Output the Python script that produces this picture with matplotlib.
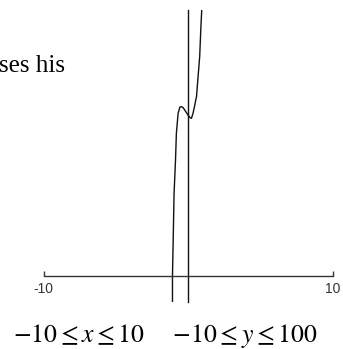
import matplotlib
matplotlib.use("Agg")
import matplotlib.pyplot as plt

# curve points (x, y)
curve_x = [-1.09, -1.09, -1.04, -0.98, -0.88, -0.82, -0.70, -0.58, -0.47, -0.35, -0.24,
           0.0, 0.12, 0.22, 0.33, 0.43, 0.52, 0.57, 0.66, 0.79, 0.88, 0.93]
curve_y = [-10.0, 0.0, 13.5, 31.0, 43.5, 53.6, 61.1, 63.4, 63.6, 63.2, 62.3,
           60.3, 59.5, 59.2, 61.1, 63.6, 66.1, 67.3, 73.6, 82.4, 94.3, 99.7]
x_range = [-10, 10]
y_range = [-10, 100]
x_ticks = [-10, 10]
x_tick_labels = ["-10", "10"]

plt.rcParams['mathtext.fontset'] = 'stix'

fig = plt.figure(figsize=(3.43, 3.49), dpi=100)
ax = fig.add_axes([43.5 / 343, (349 - 302.4) / 349, (333 - 43.5) / 343, (302.4 - 9.8) / 349])
ax.set_xlim(*x_range)
ax.set_ylim(*y_range)

ax.plot(curve_x, curve_y, color="#111111", lw=1.0, solid_joinstyle="round")

for s in ("top", "right"):
    ax.spines[s].set_visible(False)
ax.spines["left"].set_position(("data", 0))
ax.spines["bottom"].set_position(("data", 0))
ax.spines["left"].set_color("#111111")
ax.spines["bottom"].set_color("#333333")
ax.spines["left"].set_linewidth(1.0)
ax.spines["bottom"].set_linewidth(1.0)
ax.set_yticks([])
ax.set_xticks(x_ticks)
ax.set_xticklabels(x_tick_labels, family="Liberation Sans", fontsize=10, color="#333333")
ax.tick_params(axis="x", direction="in", length=3.5, width=1.0, color="#333333", pad=4.5)
ax.patch.set_alpha(0)

fig.text(-1 / 343, (349 - 71.7) / 349, "ses his", family="Liberation Serif",
         fontsize=18, ha="left", va="baseline")
fig.text(12.7 / 343, (349 - 342.5) / 349,
         r"$-10 \leq x \leq 10\quad\;\; {-}10 \leq y \leq 100$",
         fontsize=18.5, ha="left", va="baseline")

fig.savefig("out.png", dpi=100)
